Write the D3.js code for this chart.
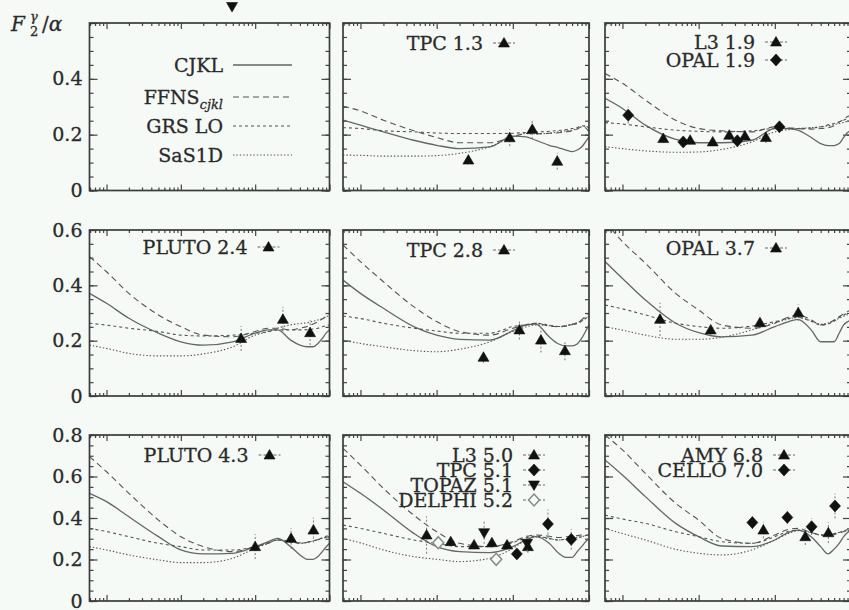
<!DOCTYPE html>
<html>
<head>
<meta charset="utf-8">
<script src="https://cdn.jsdelivr.net/npm/d3@7"></script>
<style>
body { margin: 0; background: #f6faf7; }
svg { display: block; }
text { stroke: #2a2a2a; stroke-width: 0.3px; }
</style>
</head>
<body>
<div id="chart"></div>
<script>
// x grid shared by all theory curves
var xGrid = [0.00059, 0.001, 0.002, 0.005, 0.01, 0.02, 0.05, 0.1, 0.15, 0.2, 0.3, 0.4, 0.5, 0.6, 0.7, 0.8, 0.9, 1.0];

// one row per panel (row-major, panel 0 holds only the legend)
var cjklCurves = [
    null,
    [0.252,0.234,0.21,0.18,0.162,0.15,0.156,0.195,0.192,0.18,0.162,0.153,0.145,0.139,0.145,0.156,0.174,0.192],
    [0.33,0.294,0.234,0.183,0.171,0.171,0.18,0.222,0.222,0.216,0.19,0.168,0.161,0.161,0.168,0.19,0.208,0.215],
    [0.371,0.335,0.281,0.227,0.196,0.184,0.196,0.227,0.239,0.239,0.202,0.184,0.178,0.178,0.19,0.208,0.227,0.239],
    [0.419,0.371,0.317,0.251,0.22,0.205,0.202,0.236,0.257,0.26,0.214,0.188,0.181,0.181,0.188,0.208,0.233,0.257],
    [0.486,0.425,0.347,0.263,0.229,0.214,0.22,0.251,0.268,0.277,0.239,0.196,0.196,0.196,0.227,0.257,0.268,0.275],
    [0.519,0.479,0.406,0.31,0.246,0.227,0.23,0.262,0.286,0.302,0.262,0.222,0.201,0.201,0.214,0.238,0.26,0.278],
    [0.575,0.519,0.439,0.326,0.262,0.238,0.233,0.262,0.295,0.31,0.278,0.23,0.21,0.21,0.238,0.262,0.285,0.302],
    [0.68,0.607,0.503,0.374,0.31,0.265,0.262,0.294,0.33,0.342,0.31,0.262,0.227,0.25,0.278,0.31,0.33,0.342]
];
var ffnsCurves = [
    null,
    [0.302,0.285,0.252,0.214,0.19,0.171,0.171,0.192,0.204,0.203,0.205,0.207,0.21,0.214,0.22,0.228,0.225,0.21],
    [0.419,0.384,0.324,0.252,0.222,0.214,0.21,0.228,0.225,0.222,0.22,0.222,0.225,0.232,0.245,0.255,0.265,0.27],
    [0.504,0.449,0.371,0.293,0.251,0.22,0.214,0.233,0.245,0.245,0.239,0.245,0.251,0.26,0.269,0.278,0.287,0.293],
    [0.546,0.486,0.413,0.323,0.269,0.233,0.22,0.245,0.257,0.263,0.253,0.25,0.252,0.258,0.265,0.275,0.288,0.299],
    [0.63,0.558,0.48,0.371,0.311,0.257,0.245,0.263,0.285,0.293,0.275,0.257,0.262,0.275,0.287,0.297,0.305,0.311],
    [0.696,0.623,0.519,0.39,0.31,0.262,0.238,0.262,0.278,0.294,0.285,0.28,0.283,0.29,0.296,0.302,0.307,0.31],
    [0.736,0.655,0.543,0.414,0.334,0.278,0.262,0.286,0.31,0.318,0.312,0.306,0.31,0.312,0.315,0.318,0.318,0.318],
    [0.8,0.728,0.615,0.471,0.39,0.302,0.278,0.318,0.345,0.35,0.33,0.318,0.315,0.32,0.328,0.335,0.34,0.342]
];
var grsCurves = [
    null,
    [0.225,0.222,0.214,0.21,0.206,0.204,0.204,0.205,0.208,0.21,0.212,0.215,0.218,0.222,0.226,0.232,0.23,0.225],
    [0.243,0.238,0.228,0.216,0.212,0.21,0.214,0.222,0.222,0.222,0.224,0.228,0.235,0.24,0.246,0.252,0.258,0.264],
    [0.263,0.256,0.245,0.233,0.22,0.217,0.22,0.227,0.233,0.239,0.239,0.239,0.24,0.242,0.245,0.25,0.254,0.257],
    [0.289,0.28,0.263,0.245,0.235,0.227,0.227,0.251,0.258,0.263,0.256,0.251,0.255,0.258,0.262,0.27,0.28,0.287],
    [0.329,0.315,0.293,0.263,0.251,0.245,0.253,0.269,0.28,0.284,0.27,0.257,0.26,0.27,0.284,0.292,0.3,0.305],
    [0.35,0.335,0.31,0.278,0.262,0.246,0.246,0.262,0.28,0.294,0.285,0.278,0.283,0.29,0.296,0.305,0.312,0.318],
    [0.366,0.35,0.326,0.294,0.278,0.262,0.262,0.281,0.305,0.313,0.302,0.294,0.298,0.3,0.305,0.31,0.315,0.318],
    [0.414,0.395,0.374,0.334,0.31,0.286,0.278,0.31,0.335,0.342,0.33,0.318,0.32,0.325,0.33,0.338,0.345,0.35]
];
var sasCurves = [
    null,
    [0.127,0.126,0.123,0.123,0.125,0.133,0.157,0.192,0.204,0.203,0.205,0.21,0.214,0.216,0.222,0.228,0.232,0.22],
    [0.157,0.15,0.142,0.137,0.138,0.147,0.174,0.21,0.218,0.222,0.225,0.228,0.232,0.236,0.24,0.244,0.248,0.252],
    [0.184,0.172,0.154,0.145,0.145,0.152,0.178,0.22,0.233,0.245,0.257,0.262,0.265,0.27,0.275,0.28,0.287,0.29],
    [0.202,0.19,0.178,0.164,0.16,0.169,0.196,0.233,0.25,0.257,0.254,0.251,0.255,0.26,0.265,0.272,0.28,0.287],
    [0.251,0.238,0.22,0.205,0.205,0.212,0.239,0.265,0.278,0.284,0.272,0.26,0.264,0.272,0.281,0.288,0.294,0.299],
    [0.262,0.246,0.222,0.198,0.185,0.185,0.206,0.254,0.278,0.294,0.288,0.278,0.282,0.29,0.295,0.302,0.307,0.31],
    [0.302,0.28,0.246,0.214,0.201,0.19,0.206,0.254,0.295,0.31,0.3,0.294,0.298,0.302,0.306,0.31,0.315,0.318],
    [0.35,0.325,0.294,0.249,0.23,0.222,0.246,0.294,0.325,0.339,0.33,0.318,0.32,0.325,0.33,0.335,0.34,0.342]
];

// measurements
var expSets = [
    {panel: 1, label: "TPC 1.3", mark: "tri", x: [0.0261, 0.091, 0.18, 0.383], y: [0.109, 0.189, 0.219, 0.105], err: [0.012, 0.03, 0.035, 0.03]},
    {panel: 2, label: "L3 1.9", mark: "tri", x: [0.00343, 0.00773, 0.0153, 0.0252, 0.0405, 0.0764], y: [0.186, 0.18, 0.174, 0.198, 0.195, 0.19], err: [0.015, 0.015, 0.015, 0.015, 0.015, 0.02]},
    {panel: 2, label: "OPAL 1.9", mark: "dia", x: [0.00119, 0.00628, 0.0322, 0.115], y: [0.27, 0.174, 0.178, 0.228], err: [0.03, 0.015, 0.015, 0.02]},
    {panel: 3, label: "PLUTO 2.4", mark: "tri", x: [0.0647, 0.236, 0.548], y: [0.208, 0.277, 0.229], err: [0.045, 0.045, 0.045]},
    {panel: 4, label: "TPC 2.8", mark: "tri", x: [0.0412, 0.122, 0.234, 0.483], y: [0.14, 0.239, 0.202, 0.164], err: [0.02, 0.035, 0.045, 0.035]},
    {panel: 5, label: "OPAL 3.7", mark: "tri", x: [0.00311, 0.0144, 0.0638, 0.203], y: [0.277, 0.239, 0.265, 0.301], err: [0.06, 0.02, 0.02, 0.03]},
    {panel: 6, label: "PLUTO 4.3", mark: "tri", x: [0.1, 0.304, 0.608], y: [0.262, 0.302, 0.342], err: [0.06, 0.05, 0.06]},
    {panel: 7, label: "L3 5.0", mark: "tri", x: [0.00738, 0.0153, 0.031, 0.0531, 0.084, 0.158], y: [0.318, 0.286, 0.27, 0.281, 0.27, 0.262], err: [0.09, 0.02, 0.02, 0.02, 0.02, 0.03]},
    {panel: 7, label: "TPC 5.1", mark: "dia", x: [0.113, 0.289, 0.585], y: [0.227, 0.371, 0.297], err: [0.02, 0.07, 0.05]},
    {panel: 7, label: "TOPAZ 5.1", mark: "tridown", x: [0.042, 0.154], y: [0.329, 0.278], err: [0.053, 0.04]},
    {panel: 7, label: "DELPHI 5.2", mark: "odia", x: [0.0105, 0.0605], y: [0.281, 0.201], err: [0.02, 0.02]},
    {panel: 8, label: "AMY 6.8", mark: "tri", x: [0.0708, 0.251, 0.504], y: [0.342, 0.31, 0.329], err: [0.04, 0.04, 0.05]},
    {panel: 8, label: "CELLO 7.0", mark: "dia", x: [0.0507, 0.146, 0.304, 0.617], y: [0.378, 0.403, 0.358, 0.458], err: [0.03, 0.03, 0.04, 0.06]}
];

// a marker of a panel cut off above the figure
var strayMarks = [{panel: 0, mark: "tridown", x: 0.0488, y: 0.659}];

var yTickLabels = [[0, 0.2, 0.4], [0, 0.2, 0.4, 0.6], [0, 0.2, 0.4, 0.6, 0.8]];

// layout
var colX = [[89.5, 329.5], [343, 589], [605, 851]];
var rowY = [[23, 190.5], [230, 396], [435, 601]];
var yMax = [0.6, 0.6, 0.8];
var legRight = [0, 140, 150, 158, 140, 150, 159, 170, 158];
var legTop = [0, 43, 42, 247, 250, 248, 455, 455, 455];
var legStep = [0, 18, 18, 18, 18, 18, 18, 15, 15];

var FONT = "DejaVu Serif";
var BG = "#f6faf7";

var svg = d3.select("#chart").append("svg")
    .attr("width", 849)
    .attr("height", 610);

svg.append("rect").attr("width", 849).attr("height", 610).attr("fill", BG);

var styles = [
    {name: "CJKL", data: cjklCurves, dash: null, width: 1.3, color: "#666"},
    {name: "FFNS", data: ffnsCurves, dash: "6,4", width: 1.1, color: "#555"},
    {name: "GRS LO", data: grsCurves, dash: "3,3", width: 1.1, color: "#555"},
    {name: "SaS1D", data: sasCurves, dash: "1.4,2", width: 1.1, color: "#555"}
];

function markPath(type) {
    if (type === "tri") return "M0,-5.5L5.5,4L-5.5,4Z";
    if (type === "tridown") return "M0,5.5L5.5,-4L-5.5,-4Z";
    return "M0,-6L5.5,0L0,6L-5.5,0Z";
}
function drawMark(g, type, px, py) {
    var open = type === "odia";
    g.append("path")
        .attr("d", markPath(type))
        .attr("transform", "translate(" + px + "," + py + ")")
        .attr("fill", open ? BG : "#111")
        .attr("stroke", open ? "#888" : "#111")
        .attr("stroke-width", open ? 1.5 : 0.6);
}

var majors = [0.001, 0.01, 0.1, 1];
var minors = [];
[0.0001, 0.001, 0.01, 0.1].forEach(function(d) {
    for (var k = 2; k <= 9; k++) {
        var v = +(k * d).toPrecision(3);
        if (v > 0.00059 && v < 1) minors.push(v);
    }
});

function cleanAxis(g) {
    g.select(".domain").remove();
    g.selectAll("line").attr("stroke", "#444").attr("stroke-width", 1.2);
}

for (var p = 0; p < 9; p++) {
    var r = Math.floor(p / 3), c = p % 3;
    var x = d3.scaleLog().domain([0.00059, 1]).range(colX[c]);
    var y = d3.scaleLinear().domain([0, yMax[r]]).range([rowY[r][1], rowY[r][0]]);
    var x0 = colX[c][0], x1 = colX[c][1], y0 = rowY[r][0], y1 = rowY[r][1];
    var yMinor = d3.range(0, yMax[r] + 0.001, 0.05);
    var yMajor = d3.range(0, yMax[r] + 0.001, 0.2);

    var g = svg.append("g");

    g.append("clipPath").attr("id", "clip" + p)
        .append("rect").attr("x", x0).attr("y", y0).attr("width", x1 - x0).attr("height", y1 - y0);

    // ticks, all pointing inward
    g.append("g").attr("transform", "translate(0," + y1 + ")")
        .call(d3.axisTop(x).tickValues(minors).tickSize(3).tickFormat("")).call(cleanAxis);
    g.append("g").attr("transform", "translate(0," + y1 + ")")
        .call(d3.axisTop(x).tickValues(majors).tickSize(6).tickFormat("")).call(cleanAxis);
    g.append("g").attr("transform", "translate(0," + y0 + ")")
        .call(d3.axisBottom(x).tickValues(minors).tickSize(3).tickFormat("")).call(cleanAxis);
    g.append("g").attr("transform", "translate(0," + y0 + ")")
        .call(d3.axisBottom(x).tickValues(majors).tickSize(6).tickFormat("")).call(cleanAxis);
    g.append("g").attr("transform", "translate(" + x0 + ",0)")
        .call(d3.axisRight(y).tickValues(yMinor).tickSize(4).tickFormat("")).call(cleanAxis);
    g.append("g").attr("transform", "translate(" + x0 + ",0)")
        .call(d3.axisRight(y).tickValues(yMajor).tickSize(8).tickFormat("")).call(cleanAxis);
    g.append("g").attr("transform", "translate(" + x1 + ",0)")
        .call(d3.axisLeft(y).tickValues(yMinor).tickSize(4).tickFormat("")).call(cleanAxis);
    g.append("g").attr("transform", "translate(" + x1 + ",0)")
        .call(d3.axisLeft(y).tickValues(yMajor).tickSize(8).tickFormat("")).call(cleanAxis);

    // y tick labels on the left column
    if (c === 0) {
        var ya = g.append("g").attr("transform", "translate(" + x0 + ",0)")
            .call(d3.axisLeft(y).tickValues(yTickLabels[r]).tickSize(0).tickPadding(7)
                .tickFormat(function(d) { return d === 0 ? "0" : d3.format(".1f")(d); }));
        ya.select(".domain").remove();
        ya.selectAll("text")
            .attr("font-family", FONT)
            .attr("font-size", 19)
            .attr("fill", "#2a2a2a");
    }

    // theory curves
    if (p > 0) {
        styles.forEach(function(s) {
            var line = d3.line()
                .x(function(d, i) { return x(xGrid[i]); })
                .y(function(d) { return y(d); })
                .curve(d3.curveMonotoneX);
            g.append("path")
                .attr("clip-path", "url(#clip" + p + ")")
                .attr("d", line(s.data[p]))
                .attr("fill", "none")
                .attr("stroke", s.color)
                .attr("stroke-width", s.width)
                .attr("stroke-dasharray", s.dash);
        });
    }

    // measurements with error bars
    var sets = expSets.filter(function(d) { return d.panel === p; });
    sets.forEach(function(s, k) {
        s.x.forEach(function(xv, i) {
            g.append("line")
                .attr("x1", x(xv)).attr("x2", x(xv))
                .attr("y1", y(s.y[i] - s.err[i])).attr("y2", y(s.y[i] + s.err[i]))
                .attr("stroke", "#777")
                .attr("stroke-width", 1)
                .attr("stroke-dasharray", "2,2");
        });
        s.x.forEach(function(xv, i) {
            drawMark(g, s.mark, x(xv), y(s.y[i]));
        });

        // panel legend entry
        var ly = legTop[p] + k * legStep[p];
        var lx = x0 + legRight[p];
        g.append("text")
            .attr("x", lx).attr("y", ly).attr("dy", "0.36em")
            .attr("text-anchor", "end")
            .attr("font-family", FONT)
            .attr("font-size", 19)
            .attr("fill", "#2a2a2a")
            .text(s.label);
        g.append("line")
            .attr("x1", lx + 10).attr("x2", lx + 32)
            .attr("y1", ly).attr("y2", ly)
            .attr("stroke", "#666").attr("stroke-width", 1)
            .attr("stroke-dasharray", "3,2");
        drawMark(g, s.mark, lx + 21, ly);
    });

    strayMarks.filter(function(d) { return d.panel === p; }).forEach(function(d) {
        drawMark(g, d.mark, x(d.x), y(d.y));
    });

    // frame
    g.append("rect")
        .attr("x", x0).attr("y", y0)
        .attr("width", x1 - x0).attr("height", y1 - y0)
        .attr("fill", "none")
        .attr("stroke", "#3a3a3a")
        .attr("stroke-width", 1.7);
}

// model legend in the first panel
var legY = [65, 97, 126, 155];
styles.forEach(function(s, i) {
    var t = svg.append("text")
        .attr("x", 223).attr("y", legY[i]).attr("dy", "0.36em")
        .attr("text-anchor", "end")
        .attr("font-family", FONT)
        .attr("font-size", 19)
        .attr("fill", "#2a2a2a");
    if (s.name === "FFNS") {
        t.append("tspan").text("FFNS");
        t.append("tspan").attr("dy", 5).attr("font-size", 13).attr("font-style", "italic").text("cjkl");
    } else {
        t.text(s.name);
    }
    svg.append("line")
        .attr("x1", 233).attr("x2", 292)
        .attr("y1", legY[i]).attr("y2", legY[i])
        .attr("stroke", i === 0 ? "#888" : s.color)
        .attr("stroke-width", i === 0 ? 2.2 : s.width)
        .attr("stroke-dasharray", s.dash);
});

// y-axis title  F_2^gamma / alpha
var title = svg.append("text")
    .attr("x", 11).attr("y", 31)
    .attr("font-family", FONT)
    .attr("font-size", 20)
    .attr("fill", "#2a2a2a");
title.append("tspan").attr("font-style", "italic").text("F");
title.append("tspan").attr("x", 30).attr("dy", 5).attr("font-size", 13).text("2");
title.append("tspan").attr("x", 30).attr("dy", -15).attr("font-size", 13).attr("font-style", "italic").text("γ");
title.append("tspan").attr("x", 42).attr("dy", 10).text("/");
title.append("tspan").attr("font-style", "italic").text("α");
</script>
</body>
</html>
